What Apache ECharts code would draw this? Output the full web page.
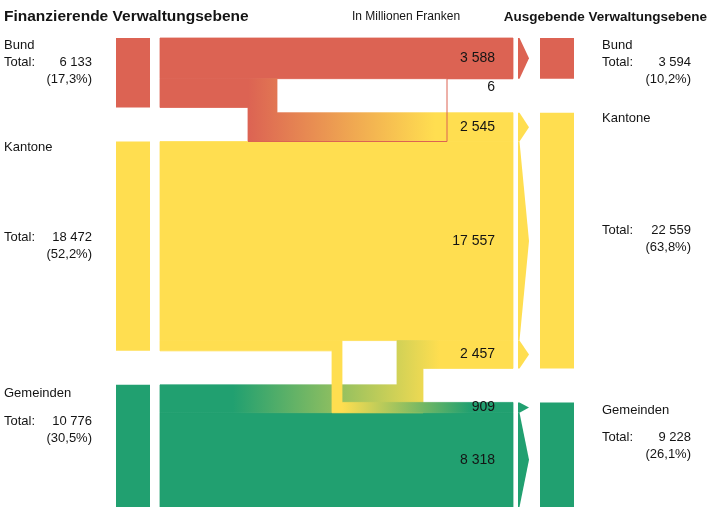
<!DOCTYPE html>
<html>
<head>
<meta charset="utf-8">
<script src="https://cdn.jsdelivr.net/npm/echarts@6/dist/echarts.min.js"></script>
<style>
html, body { margin: 0; padding: 0; background: #fff; }
#chart { width: 715px; height: 507px; }
</style>
</head>
<body>
<div id="chart"></div>
<script>
// Daten (Mio. Franken)
var NAMES = ['Bund', 'Kantone', 'Gemeinden'];
var SOURCE_TOTALS = [6133, 18472, 10776];   // finanzierende Ebene
var TARGET_TOTALS = [3594, 22559, 9228];    // ausgebende Ebene
// Flüsse: von -> nach, Betrag
var FLOW_FROM = [0, 0, 1, 1, 1, 2, 2];
var FLOW_TO = [0, 1, 0, 1, 2, 1, 2];
var FLOW_VALUES = [3588, 2545, 6, 17557, 909, 2457, 8318];

// Layout
var GAP = 3000; // Abstand zwischen den Ebenen, in Franken-Einheiten
var COLORS = ['#dc6353', '#ffde50', '#21a070'];
var FONT = '"Liberation Sans", Arial, sans-serif';
var TEXT = '#141414';
var X_LEFT_BAR = [116, 150], X_RIGHT_BAR = [540, 574];
var X_FLOW_END = 513, X_ARROW = [518, 529];
var FLOW_START = [160, 160, 248, 160, 160, 160, 160];
var FLOW_BEND = [null, [248, 277], [447, 447], null, [332, 342], [397, 423], null];
var FLOW_FADE = [null, [248, 435], null, null, [342, 470], [233, 440], null];
var FLOW_Z = [1, 1, 4, 1, 3, 2, 1];
var LEFT_LABEL_DY = [[7, 24], [6, 96], [9, 37]];
var RIGHT_LABEL_DY = [[7, 24], [6, 118], [8, 35]];
var VALUE_LABEL_X = 495;

var total = SOURCE_TOTALS.reduce(function (a, b) { return a + b; }, 0);

function tops(totals) {
    var t = [], acc = 0;
    totals.forEach(function (v) { t.push(acc); acc += v + GAP; });
    return t;
}
var leftTop = tops(SOURCE_TOTALS);
var rightTop = tops(TARGET_TOTALS);

// Position jedes Flusses innerhalb seiner Quelle und seines Ziels
var flowSrc = [], flowDst = [];
var srcAcc = leftTop.slice(), dstAcc = rightTop.slice();
FLOW_VALUES.forEach(function (v, i) {
    flowSrc.push(srcAcc[FLOW_FROM[i]]); srcAcc[FLOW_FROM[i]] += v;
    flowDst.push(dstAcc[FLOW_TO[i]]); dstAcc[FLOW_TO[i]] += v;
});

function fmt(n) { return String(n).replace(/\B(?=(\d{3})+(?!\d))/g, ' '); }
function pct(n) { return '(' + (n / total * 100).toFixed(1).replace('.', ',') + '%)'; }

function txt(x, y, s, align, size, weight, z) {
    return {
        type: 'text', z2: z || 10,
        style: {
            x: x, y: y, text: s, align: align || 'left', verticalAlign: 'middle',
            font: (weight || 'normal') + ' ' + (size || 13) + 'px ' + FONT, fill: TEXT
        }
    };
}

var renderFlow = function (params, api) {
    var i = params.dataIndex;
    var v = FLOW_VALUES[i];
    var y = function (u) { return api.coord([0, u])[1]; };
    var s0 = y(flowSrc[i]), s1 = y(flowSrc[i] + v);
    var t0 = y(flowDst[i]), t1 = y(flowDst[i] + v);
    var xa = FLOW_START[i], xb = X_FLOW_END;
    var bend = FLOW_BEND[i];
    var from = COLORS[FLOW_FROM[i]], to = COLORS[FLOW_TO[i]];
    var children = [];
    var mid = (t0 + t1) / 2;

    if (t1 - t0 < 1.5) {
        // sehr kleiner Fluss: nur eine Linie
        var pts = bend ? [[xa, s0], [bend[0], s0], [bend[0], t0], [xb, t0]] : [[xa, s0], [xb, t0]];
        children.push({ type: 'polyline', z2: FLOW_Z[i], shape: { points: pts }, style: { stroke: to, lineWidth: 1, fill: null } });
        children.push(txt(VALUE_LABEL_X, mid + 8, fmt(v), 'right', 14));
        return { type: 'group', children: children };
    }

    var fill = from;
    if (FLOW_FADE[i]) {
        fill = new echarts.graphic.LinearGradient(FLOW_FADE[i][0], 0, FLOW_FADE[i][1], 0,
            [{ offset: 0, color: from }, { offset: 1, color: to }], true);
    }
    var poly;
    if (!bend) {
        poly = [[xa, s0], [xb, t0], [xb, t1], [xa, s1]];
    } else if (t0 > s0) {
        poly = [[xa, s0], [bend[1], s0], [bend[1], t0], [xb, t0], [xb, t1], [bend[0], t1], [bend[0], s1], [xa, s1]];
    } else {
        poly = [[xa, s0], [bend[0], s0], [bend[0], t0], [xb, t0], [xb, t1], [bend[1], t1], [bend[1], s1], [xa, s1]];
    }
    children.push({ type: 'polygon', z2: FLOW_Z[i], shape: { points: poly }, style: { fill: fill, stroke: fill, lineWidth: 0.8 } });
    // Pfeil
    children.push({
        type: 'polygon', z2: 5,
        shape: { points: [[X_ARROW[0], t0], [X_ARROW[0] + 1.5, t0], [X_ARROW[1], mid], [X_ARROW[0] + 1.5, t1], [X_ARROW[0], t1]] },
        style: { fill: to }
    });
    children.push(txt(VALUE_LABEL_X, mid, fmt(v), 'right', 14));
    return { type: 'group', children: children };
};

var renderBars = function (params, api) {
    var i = params.dataIndex;
    var y = function (u) { return api.coord([0, u])[1]; };
    var l0 = y(leftTop[i]), l1 = y(leftTop[i] + SOURCE_TOTALS[i]);
    var r0 = y(rightTop[i]), r1 = y(rightTop[i] + TARGET_TOTALS[i]);
    var children = [
        { type: 'rect', shape: { x: X_LEFT_BAR[0], y: l0, width: X_LEFT_BAR[1] - X_LEFT_BAR[0], height: l1 - l0 }, style: { fill: COLORS[i] } },
        { type: 'rect', shape: { x: X_RIGHT_BAR[0], y: r0, width: X_RIGHT_BAR[1] - X_RIGHT_BAR[0], height: r1 - r0 }, style: { fill: COLORS[i] } }
    ];
    var ld = LEFT_LABEL_DY[i], rd = RIGHT_LABEL_DY[i];
    children.push(txt(4, l0 + ld[0], NAMES[i]));
    children.push(txt(4, l0 + ld[1], 'Total:'));
    children.push(txt(92, l0 + ld[1], fmt(SOURCE_TOTALS[i]), 'right'));
    children.push(txt(92, l0 + ld[1] + 17, pct(SOURCE_TOTALS[i]), 'right'));
    children.push(txt(602, r0 + rd[0], NAMES[i]));
    children.push(txt(602, r0 + rd[1], 'Total:'));
    children.push(txt(691, r0 + rd[1], fmt(TARGET_TOTALS[i]), 'right'));
    children.push(txt(691, r0 + rd[1] + 17, pct(TARGET_TOTALS[i]), 'right'));
    return { type: 'group', children: children };
};

var chart = echarts.init(document.getElementById('chart'));
var option = {
    animation: false,
    backgroundColor: '#fff',
    grid: { left: 0, right: 0, top: 38, bottom: 0 },
    xAxis: { type: 'value', min: 0, max: 715, show: false },
    yAxis: { type: 'value', min: 0, max: total + 2 * GAP, inverse: true, show: false },
    graphic: [
        txt(4, 17, 'Finanzierende Verwaltungsebene', 'left', 15.5, 'bold'),
        txt(352, 17, 'In Millionen Franken', 'left', 12),
        txt(707, 17, 'Ausgebende Verwaltungsebene', 'right', 13.5, 'bold')
    ],
    series: [
        {
            type: 'custom', renderItem: renderBars, silent: true,
            data: NAMES.map(function (n, i) { return [i]; })
        },
        {
            type: 'custom', renderItem: renderFlow, silent: true,
            data: FLOW_VALUES.map(function (v, i) { return [i, v]; })
        }
    ]
};
chart.setOption(option);
</script>
</body>
</html>
